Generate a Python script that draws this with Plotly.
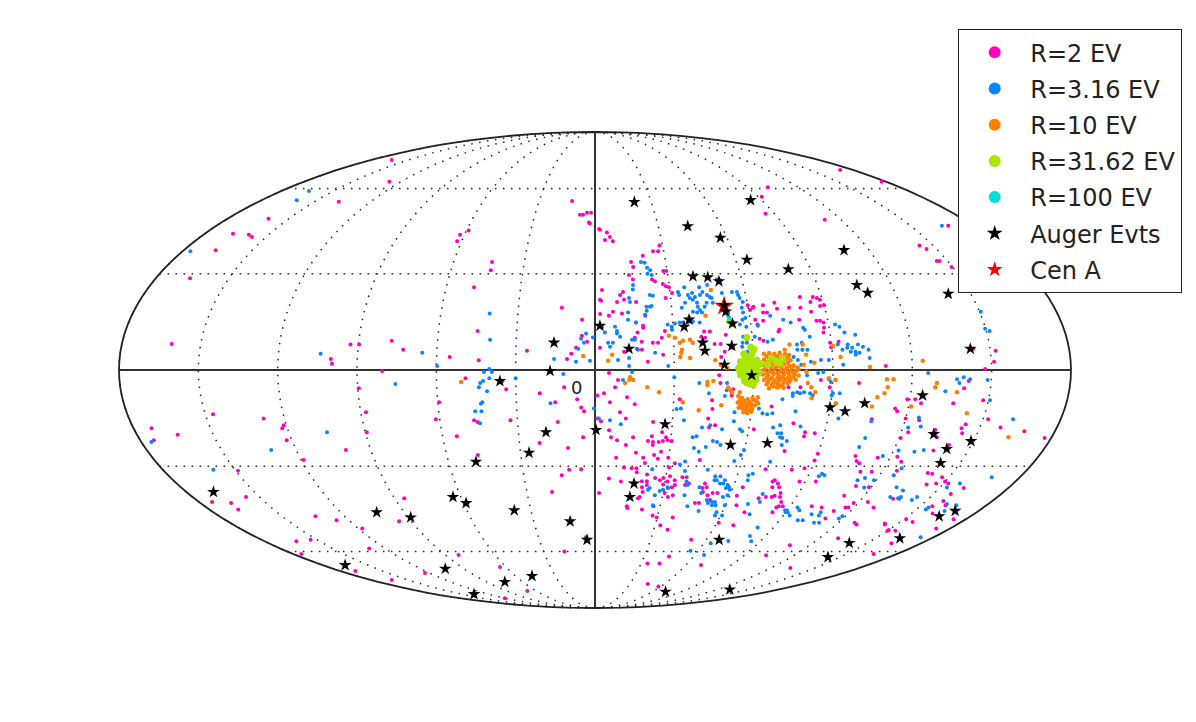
"""
Sky map (Mollweide) of arrival directions per rigidity, with Auger events and Cen A
"""
import plotly.graph_objects as go

# (lon, lat) in degrees
R2_POINTS = [
    (-163,72.2),(-127,62.7),(-137,54.9),(-160,48.7),(-167,43.4),(-159,43),(-156.5,42.3),(-166,37.8),(-166,28.6),
    (-12.3,55.2),(-7.5,50.1),(-6,50.1),(-4,50.8),(-2,50.8),(-2.9,47.3),(-2.5,47),(1.9,45),(-59,44.5),(-62,43),(-62,40.8),
    (-43.7,33.9),(-43.4,31.2),(-48.8,25.7),(-13,19.2),(-5,15.5),(-45,12),(-161,8),(-93,7.8),(-89.7,7.8),(-77.5,9),(-72.8,6.2),
    (-100,3.4),(-99.5,1.9),(-55,4),(-44,3),(-25.8,5.9),(-10.6,3.4),(-9,5),(-7.2,6.8),(-5,10.5),(-3,8.7),(2,21.7),(2,17.3),
    (-80.5,-.3),(-89.6,-5.6),(-88,-13),(-89.4,-19.2),(-128,-14.9),(-147,-13.6),(-121,-17),(-122,-18),(-122,-21.7),(-119,-28),
    (-173,-18),(-174.6,-21.7),(-164,-20),(-100,-24.8),(-149,-31.5),(-174,-41.9),(-166,-42.3),(-166.5,-44.5),(-156,-40.2),
    (-134,-46.9),(-126,-48.3),(-118,-51.3),(-129,-58.8),(-96,-48.7),(-85.6,-40.6),(-162.5,-56),(-153.5,-55.5),(-175,-61),
    (-169,-68.1),(-163,-72.2),(-123,-69),(-82,-61.4),(-64,-66.4),(-121,-82),(-69,-77.8),(-17.9,-60),(-10.8,-31.2),(-5.8,-31),
    (-14,-33),(-18.9,-38.5),(-10.8,-24.2),(-4.7,-20.8),(-14.4,-16),(-22,-22.6),(-54.4,-20.5),(-47.4,-26.4),(-46.8,-15.5),
    (-45.5,-16),(-49,-2.5),(-59.5,-9.9),(-61.5,-15.2),(-32.7,-15.5),(-33.7,-5.9),(-21,-7.1),(-15.2,-9.9),(-11.7,-5.3),
    (-6.8,-9),(-5.3,-11.5),(-4.2,-12.7),(.8,-7.8),(.8,-14.9),(1.8,-38.9),(-4.8,-54.5),
    (102,60.5),(92,56.8),(85.5,50.5),(112,48.3),(171,67.7),(177,62.7),(5.5,43.8),(6.8,42.3),(8,40.8),(4.5,41.2),(2.3,44.8),
    (20.6,35.9),(25.3,37.4),(27.5,37.4),(28.6,39.4),(15.3,33.9),(16,32.2),(28.4,30.9),(29.6,30.9),(14,29.6),(15.5,28.2),
    (23.3,28.2),(24.4,27.6),(27.5,26.7),(28.6,26),(29.8,25.7),(28,22.3),(30.8,23.9),(11.2,24.2),(10,23.2),(2.8,24.8),(2.4,21.4),
    (8.7,21),(11.5,21.7),(16.2,21),(7,18),(5.4,16.7),(10.5,17.4),(15.8,14.6),(19.5,16.7),(18.5,13.6),(18.5,13),(16.3,11.5),
    (15.2,9.9),(17.8,8.7),(22,8.4),(24,8.4),(25.5,9.9),(26.8,12),(25.8,4.7),(20,2.5),(17.8,6.2),(15.9,6.5),(11,5.6),(1.9,6.8),
    (41.8,11.8),(44,11.8),(40.6,10.2),(42,9.9),(45.5,8),(47.8,8),(50,10.8),(49.2,5.6),(52.3,6.8),(47.8,4),
    (60,20),(62.2,19.5),(60.6,18.5),(61.8,19.2),(66,20),(70.7,20.8),(71.2,18.9),(76,19.2),(80.5,19.2),(81.4,22.6),(85,21),
    (86.5,22.6),(88,22.3),(89,21.7),(88.4,19.8),(90,20),(84.3,18),(79,15.5),(85.6,15.2),(87,15.2),(88.2,14.6),(88,13),(87.5,11.5),
    (65.5,17.7),(67,17.7),(65,15.2),(62,15.5),(62.6,14),(70.7,12.4),(70.3,11.8),(62.8,9.6),(64.2,9),(89.5,8.4),(89.7,7),(92.8,8.7),(110,1.2),
    (5.3,-.9),(8.7,-3.1),(7.6,-5.3),(3.4,-7.1),(12.2,-8.4),(5.7,-9.9),(15.2,-10.5),(9.6,-13),(11.9,-14.9),(2.3,-15.8),(22.5,-16),
    (5.5,-18.6),(6.3,-20.8),(8.7,-21.7),(15,-20.8),(12.3,-23.2),(22.4,-20.5),(26.3,-19.2),(28,-20.8),(21,-22),(23,-22.3),(25.3,-22.3),
    (26.9,-22),(28.8,-21.7),(30.4,-22),(23,-23.2),(26.6,-25.4),(23.9,-26.4),(25.6,-27.6),(16.5,-25.7),(8.6,-27.3),(19.6,-27.3),(20.5,-29),
    (12,-30.4),(15.2,-30.7),(17.2,-30.7),(17.5,-32),(29.8,-27.3),(30.7,-30.4),(32.8,-29.1),(5.9,-34),(11.1,-35),(21.9,-32.7),(22.2,-34.9),
    (20,-34.9),(25.5,-33.9),(27.7,-34.6),(29,-33.9),(29.4,-36),(31.7,-33.3),(31,-35),(34,-34.6),(34.5,-36.2),(33.4,-36.9),(31.8,-37.2),
    (30.8,-38.9),(32.6,-40.2),(34.6,-39.6),(22.4,-36.2),(20.4,-36.9),(20,-40.2),(19.3,-40.6),(21,-38.5),(21.9,-44.5),(14.7,-43.4),(15,-44),
    (27.5,-46.6),(29.7,-47.3),(32.6,-50.1),(37,-51.7),(37.4,-47.3),(37,-33.6),(38.8,-33.6),(40.4,-35.7),(38.9,-36.2),(42.8,-28),
    (47.3,-35.7),(46.8,-37.2),(48.5,-36.9),(47.5,-38.5),(50,-39.6),(52,-38.9),(54.1,-38.9),(51.9,-41.2),(45.6,-42.3),(47.4,-42.3),
    (63.2,-39.8),(65,-43),(64.2,-36.9),(70.5,-45.5),(69,-50.1),(61,-49.2),(51.9,-55.5),(45,-62),(34,-64.9),(41.9,-64.9),(70,-65.6),
    (45.7,-74.2),(57.6,-75.4),(103,-61.5),(109,-57.6),(133,-66.8),(166,-61),(163.5,-56.8),(130,-54.9),(144,-49.8),(154,-52.1),(150,-52.1),
    (128,-49.2),(130,-49.8),(115,-27.3),(105.6,-26.7),(107,-28.3),(108.6,-29.1),(111,-31.8),(115.7,-31.8),(113,-36.5),(119,-36.9),
    (111,-39.8),(118,-42.3),(124,-41.9),(129,-43.8),(116,-43.8),(117.4,-43.8),(100,-43.4),(105,-43.8),(111.5,-47.7),(112,-45),
    (87.5,-35),(94.5,-35),(87,-30.7),(82,-31.2),(71,-31),(76,-35),(76.7,-34.6),(78.7,-35.7),(80,-36.9),(77,-36.9),(82,-38.9),(82.7,-40.2),
    (80,-39.8),(79,-40.2),(84.6,-41.9),(84.8,-43.4),(84,-43.8),(83.7,-45.5),(86.6,-43.4),(73.4,-40.6),(76.4,-40.2),(67.6,-11.2),(62,-18.3),
    (82.3,-19.2),(82.3,-20.5),(77,-16.4),(86.2,-19.5),(76.2,-25.1),(90,-26),(89.8,-28.2),(43.7,-14.9),(46.7,-17),(44.4,-17.7),(45,-12),
    (44.6,-9.3),(32.3,-9),(52,-7.8),(52.4,-5.9),(47,-1.6),(47.5,-4),(73.4,-5.3),(77.9,-5.3),(85.5,-3.1),(89,-5.3),(100,-4),(115,-11.8),(116,-12.7),(107,-15.2),
    (119,-9),(122,-9),(124.5,-10.2),(120,-14.9),(125.4,-15.5),(122.7,-19.2),(120.6,-21),(133,-18.5),(134.8,-20.8),(136.8,-10.2),(140,-5.6),
    (141.5,-3.4),(148,-9.3),(144,-16.7),(143,-18),(144,-19.5),(152,-15.2),(158,-17.7),(168,-18.9),(177.4,-21),(141,-23.2),(136,-25),
    (122.8,-27),(125.5,-28.6),(126,-31.5),(139.6,-32.2),(141.7,-32.5),(143,-36),(146.8,-35.7),(149.8,-35),(147,-33.6),(152,-35.7),
    (160.6,-37.2),(157.6,-39.2),(157.8,-41.6),(161,-43),(136.8,-40.8),(134,-40.8),(155.6,-43.4),(160,-45.9),(174,-47.9),(173,-51.3),
    (156,-48.9),(151,-47.9),(143.5,-49.5),(150,-51.8),
    (168,46.2),(144,39.4),(145.6,38.2),(145.4,34.2),(146.6,34.2),(149.5,32.2),(143.7,6.5),(152,5.9),(151,2.5),(147.5,.3),
]

R3_POINTS = [
    (-176.5,37.4),(-164,59),(-161,55.5),(-41,17.4),(-40,9.3),(-104,5),(-65.5,5.3),(-59.7,1.2),(-15.5,3.4),(-3.4,11.2),(-5.3,9.6),(-4.2,8.4),
    (-6.4,6.5),(-7.2,2.5),(-1.9,2.8),(-.8,10),(-40,.3),(-75.6,-4.3),(-105,-19.2),(-130,-24.8),(-159,-31.2),(-176,-22.3),(-43.5,-4),(-42.4,-3.4),
    (-44,-5.3),(-41,-6.5),(-43,-9.9),(-43.6,-10.4),(-46,-12.7),(-43.6,-12.7),(-44.6,-16.4),(-42,-.6),(-39,-.6),(-40,-2.5),(-35,-3.4),(-30,-2.5),
    (-12,-1.2),(-17,-10.2),(-.4,-11.8),(1.5,-14.9),
    (19.5,33.9),(21,33.6),(21.8,32),(23,31.2),(23.4,29.6),(21.7,30),(15.4,26.4),(15.2,25),(13.5,22.3),(13.8,21),(21.8,23.2),(23,23),(20.2,19.5),
    (21.5,19.5),(22.2,19.8),(20.2,18.3),(19.5,17),(12.9,17.7),(12.8,15.5),(15.8,14.6),(7.7,13.3),(8.4,12),(8.4,11.2),(9.6,10.2),(3.8,11.5),(2.7,13),
    (6.8,8.4),(5,8.4),(5.7,7.1),(14.1,9.3),(15.2,9.3),(16.3,6.2),(22.8,5.3),(12.9,3.7),(12.9,1.2),(8.7,3.1),(28,14),(29.5,13.3),(30.8,14.3),(32.7,14.6),
    (33.9,14.6),(35.8,14.6),(37.8,14.9),(40.4,14.6),(29.5,12.4),(33.2,24.2),(33.5,23.2),(36,25.7),(34,19.2),(35.5,20.8),(37,23.2),(38.8,23.9),(37.6,22.3),
    (38.7,21.7),(39.7,22.6),(40.2,20.8),(40.3,19.5),(41,18.5),(38.2,18),(39.8,17.7),(41.7,17.7),(42,25.7),(43,24.2),(41.8,23.2),(45.4,26.4),(44.6,23.2),
    (44,20.8),(43,19.5),(45.6,22.6),(46.3,22.3),(46.4,20.8),(49.8,28.2),(51,28),(50.7,23.9),(54.8,24.2),(56.8,24.2),(57,23.2),(57.4,22.3),(58.3,21),(57.5,19.2),
    (57.7,17.7),(58.2,16),(57,15.5),(55.8,14),(58.2,13.3),(56.6,10.2),(58,9.3),(56.2,8.4),(61,10.2),(68,16.7),(62.7,13.6),(72.8,15.5),(75.5,14.6),(67.8,9.3),
    (65.7,8.7),(80,13),(80.5,12.4),(82,10.2),(92.5,14),(94,13.3),(95.5,11.5),(99.5,10.8),(76.8,7.8),(78.7,8.4),(76.8,6.2),(78.7,6.2),(80.6,6.2),(81.7,2.5),
    (85.5,3.1),(88.5,3.1),(92.3,7.8),(93.9,6.2),(96.1,7.8),(97.7,6.8),(98.8,5.6),(100,7.8),(101.8,7.1),(103.8,6.2),(98.8,4.7),(100.3,5.3),(97,5.6),(104,3.7),
    (95.8,6.8),(75.2,4),(76.8,3.1),(78,1.6),(93.9,1.6),(57.8,8.4),(55.9,7.1),(57.8,5.6),(59.7,6.2),(27.7,1.2),
    (14,-.6),(10.6,-3.1),(5.8,-15.5),(10,-16.7),(30,-2.2),(39.5,-4),(43.3,-7.1),(50,-4),(50,-6.2),(49.4,-8),(53.6,-13),(53.8,-15.8),(31.3,-12),(32.9,-11.8),
    (34.4,-15.5),(41.7,-17.7),(44.8,-17),(49.6,-18.3),(56.6,-18.3),(57.6,-18.9),(38.5,-20.8),(40,-20.5),(46.7,-22),(48.4,-22.3),(50,-23.2),(39.6,-24.2),(41.8,-25.4),
    (44.3,-23.9),(36.9,-28.5),(35,-29.5),(37.6,-31.6),(47,-31.2),(23.8,-31),(23.2,-37.8),(23.8,-37.2),(26.6,-39.6),(28.4,-38.2),(29.8,-37.8),(31.6,-36.9),
    (26.6,-43),(27,-43.4),(39.8,-39.6),(42.6,-43.4),(48.6,-45),(57.3,-45.5),(60.7,-46.6),(57.2,-40.2),(59,-39.6),(59.6,-43),(50.8,-33.3),(52,-34.6),(53,-33.3),
    (55.4,-34.6),(55.2,-35.7),(57.3,-36.2),(58.2,-36.9),(59,-37.8),(57,-37.2),(51,-34.6),(53.8,-35.7),(39.2,-35),(40,-36.2),(45.4,-36.9),(46.9,-38.9),(50.5,-41.2),
    (51.5,-42.3),(53.2,-41.9),(54.5,-41.9),(55.4,-43),(53.7,-43),(64.7,-33),(65.2,-34.6),(66.3,-32.5),(70,-42.6),(74.9,-41.9),(74.3,-39.2),(73.5,-46.2),(71.8,-28.6),
    (57,-28.3),(59,-26.4),(59.8,-24.8),(72,-17),(69.4,-17.7),(71.6,-19.5),(73,-19.5),(73.9,-21),(76,-22),(74.4,-23.2),(73,-20.8),(80,-17.4),(66.3,-13.6),(68.2,-13.3),
    (62.8,-11.8),(64.4,-13.3),(71.4,-9),(77,-12.7),(75.2,-7.1),(76.8,-6.8),(77.9,-7.1),(79.4,-6.8),(81.7,-7.1),(82.8,-7.8),(75.2,-8),(80.2,-1.6),(84.4,-.9),(86.3,-.6),
    (88.5,-2.8),(89.3,-3.7),(90.4,-7.1),(93,-7.1),(90,-7.8),(94,-14.9),(107,-15.8),(106.6,-21),(105.6,-23.9),(116.7,-26.7),(122,-25),(95.4,-32.5),(96.8,-33),(94.6,-33.3),
    (112,-34.6),(114.6,-33.9),(119,-34.6),(117,-37),(131,-36.9),(126,-33),(132,-40.2),(136,-40.6),(89,-44.8),(91,-45.5),(93.8,-43.8),(95.7,-44.8),(98.9,-48.3),(101.3,-48.3),
    (103,-46.2),(108,-49.2),(110.5,-49.2),(107,-46.6),(106.5,-45.5),(118,-47.7),(118.6,-46.9),(93,-46.6),(90,-45.5),(57.3,-46.6),(81.8,-54.1),(85,-56),(82,-50.9),
    (55.5,-59.7),(65.5,-61.4),(63.8,-56.8),(72.4,-55.9),
    (126,-.9),(133,-6.5),(137,-2.8),(138,-4),(139.5,-2.2),(142,-2.8),(148.6,-3.1),(150.6,-9.3),(161.6,-15.2),(125,-14.6),(126.8,-17.4),(122,-17.7),(128.6,-25.4),
    (132,-24.8),(127.3,-30.7),(168,-33.6),(157,-35.7),(153,-37),(135,-38),(136.8,-40.2),(143,-41.2),(144,-40.2),(154.4,-44.5),(154.5,-43.8),(161,-42.6),(166,-43),
    (164,-45),(173,-54.5),(165,46.2),(150.5,18),(149.8,12.7),(151.3,12),
]

R10_POINTS = [
    (46.5,24.8),(42.9,16.7),(36.5,16),(32.3,8.4),(30.5,9.9),(36.2,9.3),(37.2,8.4),(33,6.2),(32.7,5.3),(32.3,4),(36,3.7),(6.5,4.7),(5,2.8),(28.2,10.5),(33.5,9),
    (79,7.8),(80,4.7),(83,2.2),(90.5,7.4),(93,4),(104,.9),(45.5,3),(47.5,1.6),(50,.6),(74,7.8),(72,6.2),
    (13.3,-2.2),(14.4,-3.1),(11.4,-4),(13,-3),(19.8,-5.3),(24.3,-6.8),(33.5,-9.9),(39.8,-12.4),(42.6,-3.7),(42.6,-4.6),(44.8,-3.4),(48.3,-10.8),
    (80.6,-4),(82,-5.3),(83.6,-6.8),(82.5,-8.7),(88.5,-2.5),(91,-3.1),(92,-10.2),(106,-11.2),(107.5,-8.4),(110,-7.1),(111,-5.3),(110.5,-2.8),(113,-2.8),
    (129.5,-4),(129,-5.3),(137.5,-6.8),(143,-13.3),(163,-20.8),(121,-11.2),(124,2.8),(-50.7,-3.7),(-4.5,4.3),
    # main clump right of the green one
    (64,5),(66,5.2),(68,5),(70,5.3),(72,4.9),(73.5,4.6),(64,3.2),(66,3.4),(68,3.6),(70,3.2),(72,3.4),(74,3),(63.5,1.6),(65.5,1.2),(67.5,2),(69.5,1.4),(71.5,1.8),
    (73.5,1.2),(75,1.4),(76.5,.8),(64,0),(66,-.2),(68,.2),(70,-.3),(72,.1),(74,-.2),(76,-.3),(77,.2),(63.5,-1.4),(65.5,-1.6),(67.5,-1.2),(69.5,-1.7),(71.5,-1.3),
    (73.5,-1.6),(75.5,-1.4),(77,-1.7),(64,-3),(66,-2.9),(68,-3.2),(70,-2.8),(72,-3.1),(74,-2.9),(76,-3),(65,-4.4),(67,-4.6),(69,-4.2),(71,-4.5),(73,-4.2),
    (66,-5.6),(69,-5.4),(71.5,-5.5),(62,2),(62.5,-1),(80,-.5),(79,1.6),
    (65,4.2),(67,4.3),(69,4.2),(71,4.2),(73,3.8),(65,2.3),(67,2.7),(69,2.3),(71,2.6),(73,2.2),(64.5,.6),(66.5,.9),(68.5,.8),(70.5,.7),(72.5,.6),(74.5,.6),
    (65,-.9),(67,-.7),(69,-.9),(71,-.7),(73,-.8),(75,-.8),(65,-2.2),(67,-2.4),(69,-2.3),(71,-2.2),(73,-2.3),(75,-2.2),(65.5,-3.7),(67.5,-3.8),(69.5,-3.6),(71.5,-3.7),(73.5,-3.6),
    (67.5,-5),(70,-5),
    # clump below it
    (54.5,-8),(56,-8.6),(54.5,-10),(56,-10.2),(57.5,-10.4),(59,-9.8),(60.5,-9.2),(62,-8.4),(55,-11.6),(56.5,-11.8),(58,-11.6),(59.5,-11.4),(61,-10.8),(62.3,-10.2),
    (57,-13),(58.5,-13.2),(60,-12.8),(52,-7),(50.5,-5.4),(51.5,-6.2),(55,-6.8),
    (55.3,-9.2),(56.8,-9.4),(58.2,-9),(59.8,-10.6),(60,-8.6),(55.6,-10.9),(57.3,-11.1),(58.8,-10.7),(60.2,-12),(57.8,-12.4),(59.2,-12.5),(61.6,-9.6),
]

R31_POINTS = [
    (55,2.5),(54.3,.6),(55,-1.5),(56.6,-3.4),(58.9,-4.3),(60.8,-3.1),(62,-.6),(59.7,1.2),(57.4,-.6),(57,3.7),(58.9,4.3),(61.2,3.1),(55.9,.6),(58.5,-1.9),
    (56,2),(57.5,1.8),(59,2.8),(60.5,1),(61,-1.6),(59.6,-2.4),(57.6,-2.6),(56,-1.8),(54.8,-.6),(58.6,.2),(60,-.4),(56.6,-.2),(61.6,1.4),(57.6,-4),(60,-4.6),
    (59.6,5.2),(60.4,6.4),(56.4,5),(62.6,2),
    (58,10),(59.2,7),(52,15),(53,14.3),(68.4,2.8),(65.3,1.6),(71,3.7),(70,2),(66.8,3.6),
]

R100_POINTS = [(51.5,17),(52.5,15),(52,16)]

AUGER_POINTS = [
    (21,54.8),(84,55.5),(44,46),(57,42),(64.8,34.6),(109,37.8),(40.3,29.2),(46.3,28.9),(50.5,27.6),(80.7,31.5),(106,26.4),(109,23.9),(141,23.6),(142.5,6.5),
    (1.9,13.6),(-15.6,8.4),(12.9,6.5),(34.3,13.3),(36.4,15.5),(41,8.4),(41.7,5.9),(52,7.4),(49,1.6),(59.3,-1.6),(51,18),(53,14.3),(50.8,20),(-36,-3.4),(-17,-.3),
    (.4,-18.5),(-19.2,-19.2),(-26.6,-25.7),(-48.8,-28.6),(27.2,-16.7),(54,-23.2),(68.5,-22.6),(90,-11.5),(96,-12.7),(103,-10.2),(124.6,-7.8),(133,-19.8),
    (141,-24.5),(142,-29),(149,-22),(165,-46.9),(169,-45),(163,-54.9),(140,-56.7),(142.6,-62.3),(67,-55.5),(15.6,-40.2),(16.8,-35.7),(-12.2,-48.7),(-4.3,-55.5),
    (-37.8,-44.8),(-58.8,-42.3),(-63.5,-40.2),(-88.8,-47.3),(-103,-45.5),(-168,-38.5),(-165,-65.6),(-103,-67.2),(-75,-73.2),(-47.6,-70.4),(-136,-79.5),(73.5,-78.2),(132,-77),
]

CEN_A = [(50.7,19.8)]

# equator and central meridian
AXIS_LON = [-179.9, -120, -60, 0, 60, 120, 179.9]
AXIS_LAT = [-90, -45, 0, 45, 90]

COLORS = {"R2": "#ff00bf", "R3": "#0a84ff", "R10": "#ff8000", "R31": "#aae600", "R100": "#00e0d8"}

# the page keeps its 8px body margin, so the figure is 8px short each way
WIDTH, HEIGHT = 1188, 714

fig = go.Figure()

fig.add_trace(go.Scattergeo(lon=AXIS_LON, lat=[0] * len(AXIS_LON), mode="lines",
                            line=dict(color="#333333", width=2), showlegend=False, hoverinfo="skip"))
fig.add_trace(go.Scattergeo(lon=[0] * len(AXIS_LAT), lat=AXIS_LAT, mode="lines",
                            line=dict(color="#333333", width=2), showlegend=False, hoverinfo="skip"))


def add_points(points, name, color, symbol="circle", size=4, rank=1):
    lon, lat = zip(*points)
    fig.add_trace(go.Scattergeo(
        lon=lon, lat=lat, mode="markers", name=name,
        marker=dict(color=color, symbol=symbol, size=size, line=dict(width=0)),
        legendgroup=name, legendrank=rank,
    ))


add_points(R2_POINTS, "R=2 EV", COLORS["R2"], rank=1)
add_points(R3_POINTS, "R=3.16 EV", COLORS["R3"], rank=2)
add_points(R10_POINTS, "R=10 EV", COLORS["R10"], size=4.5, rank=3)
add_points(R31_POINTS, "R=31.62 EV", COLORS["R31"], size=7, rank=4)
add_points(R100_POINTS, "R=100 EV", COLORS["R100"], size=4.5, rank=5)
add_points(CEN_A, "Cen A", "red", symbol="star", size=15, rank=7)
add_points(AUGER_POINTS, "Auger Evts", "black", symbol="star", size=9.5, rank=6)

fig.update_geos(
    projection_type="mollweide",
    domain=dict(x=[111 / WIDTH, 1063 / WIDTH], y=[1 - 600 / HEIGHT, 1 - 124 / HEIGHT]),
    showland=False, showcoastlines=False, showcountries=False, showlakes=False, showocean=False, showrivers=False,
    showframe=True, framecolor="#222222", framewidth=1.8, bgcolor="white",
    lonaxis=dict(showgrid=True, dtick=30, gridcolor="#222222", gridwidth=1.5, griddash="1.5px,6.5px"),
    lataxis=dict(showgrid=True, dtick=30, gridcolor="#222222", gridwidth=1.5, griddash="1.5px,6.5px"),
)

fig.add_annotation(x=568 / WIDTH, y=1 - 379 / HEIGHT, xref="paper", yref="paper", text="0", showarrow=False,
                   font=dict(size=18, color="#222222"))

fig.update_layout(
    width=WIDTH, height=HEIGHT,
    margin=dict(l=0, r=0, t=0, b=0),
    paper_bgcolor="white",
    font=dict(family="DejaVu Sans", color="#222222"),
    legend=dict(
        x=950 / WIDTH, y=1 - 21 / HEIGHT, xanchor="left", yanchor="top",
        bgcolor="white", bordercolor="#222222", borderwidth=1.2,
        font=dict(size=24), itemsizing="constant", itemwidth=61,
        traceorder="grouped", tracegroupgap=2,
    ),
)

fig.write_html("out.html")
